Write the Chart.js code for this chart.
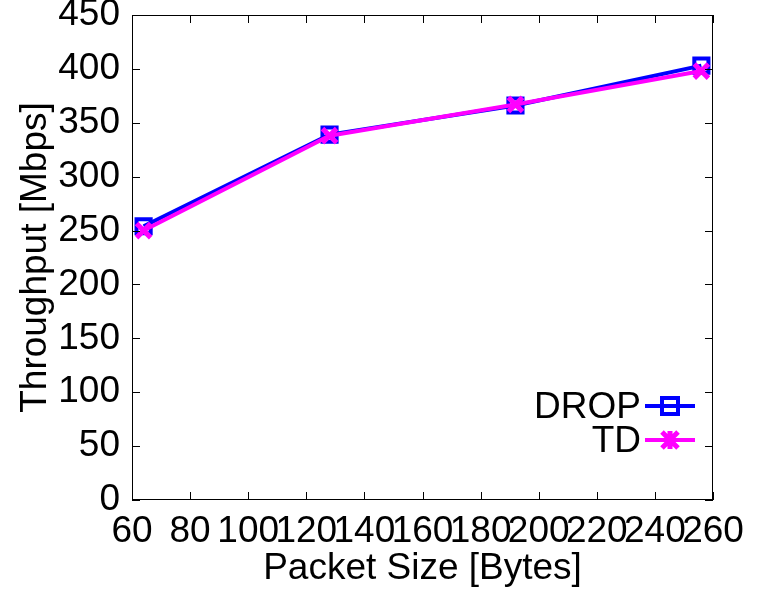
<!DOCTYPE html>
<html>
<head>
<meta charset="utf-8">
<script src="https://cdn.jsdelivr.net/npm/chart.js@4"></script>
<style>
  body { margin: 0; background: #fff; }
  #wrap { width: 758px; height: 591px; }
</style>
</head>
<body>
<div id="wrap"><canvas id="throughput_chart"></canvas></div>
<script>
// DATA
const packet_sizes = [64, 128, 192, 256];
const drop_values = [254, 339, 366, 403];
const td_values = [250, 338, 367, 398];
const x_ticks = [60, 80, 100, 120, 140, 160, 180, 200, 220, 240, 260];
const y_ticks = [0, 50, 100, 150, 200, 250, 300, 350, 400, 450];

const FONT = "'Liberation Sans', Arial, sans-serif";
const FSIZE = 37;

// gnuplot-like frame with inward ticks on all sides
const framePlugin = {
	id: 'frame',
	afterDatasetsDraw(chart) {
		const c = chart.ctx, a = chart.chartArea;
		const xs = chart.scales.x, ys = chart.scales.y;
		c.save();
		c.strokeStyle = '#000';
		c.lineWidth = 1;
		c.strokeRect(a.left + 0.5, a.top + 0.5, a.right - a.left - 1, a.bottom - a.top - 1);
		c.beginPath();
		y_ticks.forEach(v => {
			const y = Math.round(ys.getPixelForValue(v)) + 0.5;
			c.moveTo(a.left, y); c.lineTo(a.left + 8, y);
			c.moveTo(a.right, y); c.lineTo(a.right - 8, y);
		});
		x_ticks.forEach(v => {
			const x = Math.round(xs.getPixelForValue(v)) + 0.5;
			c.moveTo(x, a.bottom); c.lineTo(x, a.bottom - 8);
			c.moveTo(x, a.top); c.lineTo(x, a.top + 8);
		});
		c.stroke();
		c.restore();
	}
};

// legend inside plot, text left of the sample
const keyPlugin = {
	id: 'key',
	afterDraw(chart) {
		const c = chart.ctx, a = chart.chartArea;
		c.save();
		c.font = FSIZE + 'px ' + FONT;
		c.textAlign = 'right';
		c.textBaseline = 'middle';
		chart.data.datasets.forEach((ds, i) => {
			const y = 406 + i * 34;
			const x1 = a.right - 68, x2 = a.right - 18;
			c.fillStyle = '#000';
			c.fillText(ds.label, x1 - 4, y + 2);
			c.strokeStyle = ds.borderColor;
			c.lineWidth = 4;
			c.beginPath(); c.moveTo(x1, y); c.lineTo(x2, y); c.stroke();
			const cx = (x1 + x2) / 2;
			if (ds.pointStyle === 'rect') {
				c.lineWidth = 4;
				c.strokeRect(cx - 8, y - 8, 16, 16);
			} else {
				c.lineWidth = 5;
				c.beginPath();
				c.moveTo(cx - 8, y - 8); c.lineTo(cx + 8, y + 8);
				c.moveTo(cx + 8, y - 8); c.lineTo(cx - 8, y + 8);
				c.moveTo(cx, y - 9); c.lineTo(cx, y + 9);
				c.stroke();
			}
		});
		c.restore();
	}
};

const ctx = document.getElementById('throughput_chart').getContext('2d');
new Chart(ctx, {
	type: 'line',
	data: {
		datasets: [{
			label: 'DROP',
			data: packet_sizes.map((x, i) => ({ x: x, y: drop_values[i] })),
			borderColor: '#0000ff',
			backgroundColor: 'rgba(0,0,0,0)',
			borderWidth: 4,
			pointStyle: 'rect',
			pointRadius: 10,
			pointBorderWidth: 4,
			order: 2
		}, {
			label: 'TD',
			data: packet_sizes.map((x, i) => ({ x: x, y: td_values[i] })),
			borderColor: '#ff00ff',
			backgroundColor: '#ff00ff',
			borderWidth: 4,
			pointStyle: 'crossRot',
			pointRadius: 10,
			pointBorderWidth: 5,
			order: 1
		}]
	},
	options: {
		responsive: true,
		maintainAspectRatio: false,
		animation: false,
		layout: { padding: { top: 15, right: 45, left: 0, bottom: 0 } },
		plugins: { legend: { display: false }, tooltip: { enabled: false } },
		scales: {
			x: {
				type: 'linear',
				min: 60, max: 260,
				afterBuildTicks: s => { s.ticks = x_ticks.map(v => ({ value: v })); },
				afterFit: s => { s.height = 91; s.paddingLeft = 0; s.paddingRight = 0; },
				grid: { display: false, drawTicks: false },
				border: { display: false },
				ticks: {
					autoSkip: false, maxRotation: 0, padding: 10,
					color: '#000', font: { family: FONT, size: FSIZE }
				},
				title: {
					display: true, text: 'Packet Size [Bytes]', color: '#000',
					font: { family: FONT, size: FSIZE }, padding: { top: -6, bottom: 0 }
				}
			},
			y: {
				min: 0, max: 450,
				afterBuildTicks: s => { s.ticks = y_ticks.map(v => ({ value: v })); },
				afterFit: s => { s.width = 132; s.paddingTop = 0; s.paddingBottom = 0; },
				grid: { display: false, drawTicks: false },
				border: { display: false },
				ticks: {
					autoSkip: false, padding: 12,
					color: '#000', font: { family: FONT, size: FSIZE }
				},
				title: {
					display: true, text: 'Throughput [Mbps]', color: '#000',
					font: { family: FONT, size: FSIZE }, padding: { top: 14, bottom: 0 }
				}
			}
		}
	},
	plugins: [framePlugin, keyPlugin]
});
</script>
</body>
</html>
